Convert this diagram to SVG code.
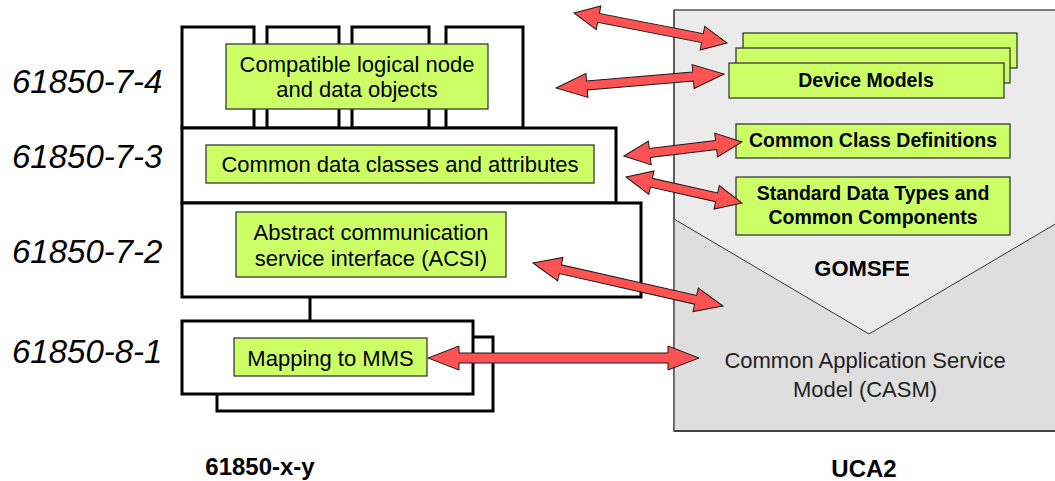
<svg xmlns="http://www.w3.org/2000/svg" width="1055" height="481" viewBox="0 0 1055 481">
<style>
.blk{fill:#fff;stroke:#000;stroke-width:3}
.grn{fill:#ccff66;stroke:#3a3a3a;stroke-width:1.3}
.arr{fill:#ff5252;stroke:#1a1a1a;stroke-width:1;stroke-linejoin:miter}
.t{font-family:"Liberation Sans",Arial,sans-serif;font-size:22px;fill:#000;text-anchor:middle}
.b{font-family:"Liberation Sans",Arial,sans-serif;font-weight:bold;font-size:19.5px;fill:#000;text-anchor:middle}
.lab{font-family:"Liberation Sans",Arial,sans-serif;font-style:italic;font-size:33px;fill:#000}
</style>
<rect width="1055" height="481" fill="#fff"/>

<g id="uca2-panel">
<rect x="674" y="10" width="390" height="421" fill="#ebebeb" stroke="#555" stroke-width="1.5"/>
<polygon points="674,219 869,334 1057,223 1057,431 674,431" fill="#dedede" stroke="none"/>
<polyline points="674,219 869,334 1057,223" fill="none" stroke="#333" stroke-width="1"/>
<line x1="674" y1="431" x2="1055" y2="431" stroke="#444" stroke-width="2"/>
<line x1="674" y1="10" x2="674" y2="431" stroke="#555" stroke-width="1.5"/>
<text class="b" x="862" y="276" style="font-size:22px">GOMSFE</text>
<text class="t" x="865" y="368" style="fill:#222">Common Application Service</text>
<text class="t" x="865" y="397" style="fill:#222">Model (CASM)</text>
</g>

<g id="device-models">
<rect class="grn" x="743" y="33" width="274" height="35"/>
<rect class="grn" x="736" y="48" width="274" height="35"/>
<rect class="grn" x="729" y="63" width="275" height="35"/>
<text class="b" x="866" y="87">Device Models</text>
</g>

<g id="common-class-definitions">
<rect class="grn" x="736" y="124" width="274" height="34"/>
<text class="b" x="873" y="147">Common Class Definitions</text>
</g>

<g id="standard-data-types">
<rect class="grn" x="736" y="177" width="274" height="58"/>
<text class="b" x="873" y="200">Standard Data Types and</text>
<text class="b" x="873" y="224">Common Components</text>
</g>

<g id="layer-7-4">
<rect class="blk" x="182" y="27" width="72" height="101"/>
<rect class="blk" x="267" y="27" width="72" height="101"/>
<rect class="blk" x="352" y="27" width="77" height="101"/>
<rect class="blk" x="446" y="27" width="77" height="101"/>
<rect class="grn" x="226" y="44" width="262" height="65"/>
<text class="t" x="357" y="72">Compatible logical node</text>
<text class="t" x="357" y="97">and data objects</text>
</g>

<g id="layer-7-3">
<rect class="blk" x="182" y="128" width="434" height="75"/>
<rect class="grn" x="206" y="145" width="388" height="38"/>
<text class="t" x="400" y="172">Common data classes and attributes</text>
</g>

<g id="layer-7-2">
<rect class="blk" x="182" y="203" width="459" height="94"/>
<rect class="grn" x="236" y="212" width="270" height="65"/>
<text class="t" x="371" y="240">Abstract communication</text>
<text class="t" x="371" y="266">service interface (ACSI)</text>
</g>

<g id="layer-8-1">
<rect class="blk" x="217" y="337" width="276" height="74"/>
<rect class="blk" x="182" y="321" width="291" height="73"/>
<rect class="grn" x="234" y="338" width="193" height="38"/>
<text class="t" x="330.5" y="366">Mapping to MMS</text>
</g>

<g id="labels">
<text class="lab" x="12" y="93">61850-7-4</text>
<text class="lab" x="12" y="168">61850-7-3</text>
<text class="lab" x="12" y="263">61850-7-2</text>
<text class="lab" x="12" y="363">61850-8-1</text>
<text class="b" x="260" y="475" style="font-size:24px">61850-x-y</text>
<text class="b" x="864" y="477" style="font-size:24px">UCA2</text>
</g>

<g id="connectors">
<line x1="310" y1="297" x2="310" y2="321" stroke="#000" stroke-width="3"/>
<path class="arr" transform="translate(574,13) rotate(11.09)" d="M0,0 L25,-12 L25,-4.5 L130.9,-4.5 L130.9,-12 L155.9,0 L130.9,12 L130.9,4.5 L25,4.5 L25,12 Z"/>
<path class="arr" transform="translate(556,88) rotate(-4.76)" d="M0,0 L31,-12 L31,-4.5 L137.6,-4.5 L137.6,-12 L168.6,0 L137.6,12 L137.6,4.5 L31,4.5 L31,12 Z"/>
<path class="arr" transform="translate(624,156) rotate(-6.77)" d="M0,0 L26,-12 L26,-4.5 L92.8,-4.5 L92.8,-12 L118.8,0 L92.8,12 L92.8,4.5 L26,4.5 L26,12 Z"/>
<path class="arr" transform="translate(626,177) rotate(12.63)" d="M0,0 L26,-12 L26,-4.5 L92.9,-4.5 L92.9,-12 L118.9,0 L92.9,12 L92.9,4.5 L26,4.5 L26,12 Z"/>
<path class="arr" transform="translate(533,263) rotate(12.75)" d="M0,0 L28,-12 L28,-4.5 L166.8,-4.5 L166.8,-12 L194.8,0 L166.8,12 L166.8,4.5 L28,4.5 L28,12 Z"/>
<path class="arr" transform="translate(428,358)" d="M0,0 L31,-12 L31,-5 L240,-5 L240,-12 L271,0 L240,12 L240,5 L31,5 L31,12 Z"/>
</g>
</svg>
